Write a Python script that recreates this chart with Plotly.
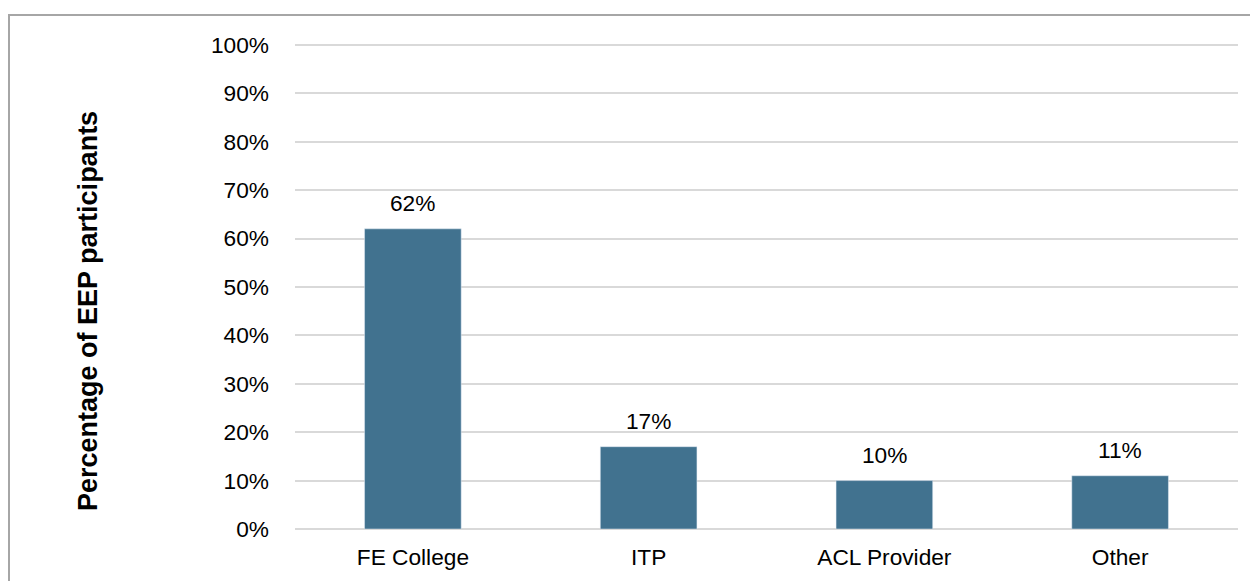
import plotly.graph_objects as go

# Provider types and share of EEP participants (%)
providers = ["FE College", "ITP", "ACL Provider", "Other"]
shares = [62, 17, 10, 11]
bar_labels = ["62%", "17%", "10%", "11%"]
y_ticks = [0, 10, 20, 30, 40, 50, 60, 70, 80, 90, 100]
y_tick_labels = ["0%", "10%", "20%", "30%", "40%", "50%", "60%", "70%", "80%", "90%", "100%"]

font = "Liberation Sans, Arial, sans-serif"

# page body has an 8px margin, so pixel positions below are shifted by 8
# range goes a bit past 100 so the top gridline is drawn; top margin made smaller to match
L, R, T, B = 287, 28, 32, 60
W, H = 1258, 581
pw = W - L - R
ph = H - T - B


def px_x(x):
    return (x - 8 - L) / pw


def px_y(y):
    return (H - B + 8 - y) / ph


bars = go.Bar(
    x=providers,
    y=shares,
    marker=dict(color="#41728F"),
    name="Share",
)

fig = go.Figure(data=[bars])

# value labels above the bars
for p, v, lab in zip(providers, shares, bar_labels):
    fig.add_annotation(
        x=p, y=v, text=lab, showarrow=False,
        yanchor="middle", yshift=26,
        font=dict(size=22.7, color="black", family=font),
    )

fig.add_annotation(
    text="<b>Percentage of EEP participants</b>",
    textangle=-90,
    xref="paper", yref="paper",
    x=px_x(88), y=px_y(311),
    xanchor="center", yanchor="middle",
    showarrow=False,
    font=dict(size=27, color="black", family=font),
)

fig.update_layout(
    width=W,
    height=H,
    margin=dict(l=L, r=R, t=T, b=B),
    paper_bgcolor="white",
    plot_bgcolor="white",
    bargap=0.59,
    showlegend=False,
    font=dict(family=font, size=22.7, color="black"),
    xaxis=dict(
        showgrid=False,
        showline=False,
        ticks="",
        tickfont=dict(size=22.7),
        ticklabelstandoff=12,
    ),
    yaxis=dict(
        range=[0, 101],
        tickvals=y_ticks,
        ticktext=y_tick_labels,
        showgrid=True,
        gridcolor="#D9D9D9",
        gridwidth=1.5,
        zeroline=True,
        zerolinecolor="#D9D9D9",
        zerolinewidth=1.5,
        showline=False,
        ticks="",
        tickfont=dict(size=22.7),
        ticklabelstandoff=25,
    ),
    shapes=[
        dict(
            type="rect",
            xref="paper", yref="paper",
            x0=px_x(9), x1=1.1,
            y0=-0.3, y1=px_y(15),
            line=dict(color="#A6A6A6", width=2),
            fillcolor="rgba(0,0,0,0)",
            layer="below",
        )
    ],
)

fig.write_html("out.html")
